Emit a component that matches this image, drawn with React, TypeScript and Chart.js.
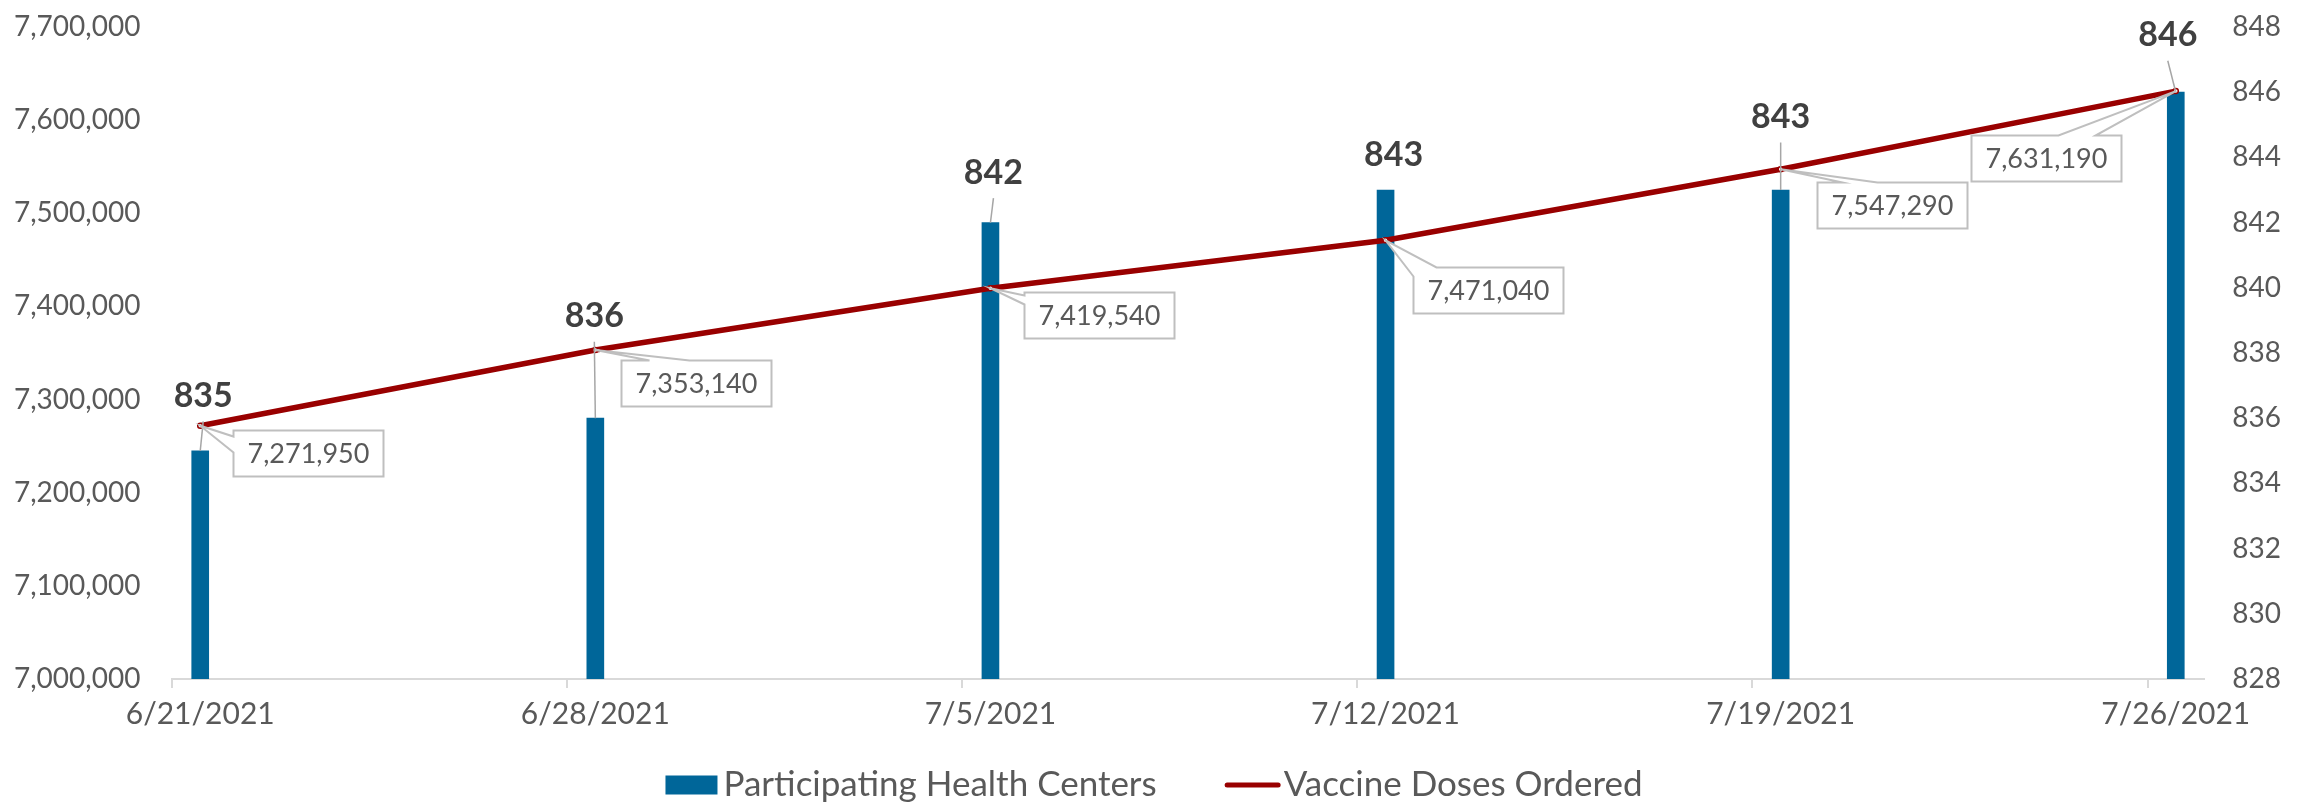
import React, { useEffect, useRef } from 'react';
import { Chart, registerables } from 'chart.js';

Chart.register(...registerables);

// ---- data ----
const weekDates = ['6/21/2021', '6/28/2021', '7/5/2021', '7/12/2021', '7/19/2021', '7/26/2021'];
const healthCenters = [835, 836, 842, 843, 843, 846];
const dosesOrdered = [7271950, 7353140, 7419540, 7471040, 7547290, 7631190];
const seriesNames = ['Participating Health Centers', 'Vaccine Doses Ordered'];
const leftAxisRange = [7000000, 7700000, 100000];
const rightAxisRange = [828, 848, 2];

// ---- label placement (pixel offsets, not data) ----
const barLabelShift = [[3, -55], [-1, -102], [3, -50], [8, -35], [0, -73], [-8, -57]];
const calloutShift = [[33, 4], [26, 10], [34, 4], [27, 27], [36, 13], [-205, 44]];
// wedge kind and two base offsets along box edges
const calloutWedge: [string, number, number][] = [
  ['left', 6, 22],
  ['top', 28, 68],
  ['left', 3, 12],
  ['corner', 23, 9],
  ['top', 25, 60],
  ['top', 87, 124],
];

const BAR_COLOR = '#006699';
const LINE_COLOR = '#990000';
const TEXT_COLOR = '#595959';
const FONT = 'Lato';

// build the daily category axis from the weekly dates
const parseMDY = (s: string) => {
  const [m, d, y] = s.split('/').map(Number);
  return Date.UTC(y, m - 1, d);
};
const fmtMDY = (t: number) => {
  const d = new Date(t);
  return `${d.getUTCMonth() + 1}/${d.getUTCDate()}/${d.getUTCFullYear()}`;
};
const dayLabels: string[] = [];
for (let t = parseMDY(weekDates[0]); t <= parseMDY(weekDates[weekDates.length - 1]); t += 86400000) {
  dayLabels.push(fmtMDY(t));
}
const weekSet = new Set(weekDates);

const labelPlugin = {
  id: 'customLabels',
  afterDatasetsDraw(chart: any) {
    const ctx = chart.ctx as CanvasRenderingContext2D;
    const barMeta = chart.getDatasetMeta(0);
    const lineMeta = chart.getDatasetMeta(1);
    ctx.save();

    // leader lines for bar labels
    barMeta.data.forEach((bar: any, i: number) => {
      const { x, y } = bar.getProps(['x', 'y'], true);
      const [dx, dy] = barLabelShift[i];
      const lx = x + dx;
      const ly = y + dy;
      const bottom = ly + 12.5;
      if (y - bottom > 28) {
        ctx.beginPath();
        ctx.moveTo(lx, bottom + 13);
        ctx.lineTo(x, y);
        ctx.strokeStyle = '#a6a6a6';
        ctx.lineWidth = 1.5;
        ctx.stroke();
      }
    });

    // callouts for line values
    lineMeta.data.forEach((pt: any, i: number) => {
      const { x, y } = pt.getProps(['x', 'y'], true);
      const text = dosesOrdered[i].toLocaleString('en-US');
      ctx.font = `27px ${FONT}`;
      const tw = ctx.measureText(text).width;
      const w = Math.round(tw + 28);
      const h = 46;
      const [dx, dy] = calloutShift[i];
      const bx = Math.round(x + dx) + 0.5;
      const by = Math.round(y + dy) + 0.5;
      const [kind, a, b] = calloutWedge[i];
      ctx.beginPath();
      if (kind === 'top') {
        ctx.moveTo(bx, by);
        ctx.lineTo(bx + a, by);
        ctx.lineTo(x, y);
        ctx.lineTo(bx + b, by);
        ctx.lineTo(bx + w, by);
        ctx.lineTo(bx + w, by + h);
        ctx.lineTo(bx, by + h);
        ctx.closePath();
      } else if (kind === 'left') {
        ctx.moveTo(bx, by);
        ctx.lineTo(bx + w, by);
        ctx.lineTo(bx + w, by + h);
        ctx.lineTo(bx, by + h);
        ctx.lineTo(bx, by + b);
        ctx.lineTo(x, y);
        ctx.lineTo(bx, by + a);
        ctx.closePath();
      } else {
        ctx.moveTo(bx, by + b);
        ctx.lineTo(x, y);
        ctx.lineTo(bx + a, by);
        ctx.lineTo(bx + w, by);
        ctx.lineTo(bx + w, by + h);
        ctx.lineTo(bx, by + h);
        ctx.closePath();
      }
      ctx.fillStyle = '#ffffff';
      ctx.fill();
      ctx.strokeStyle = '#bfbfbf';
      ctx.lineWidth = 2;
      ctx.stroke();
      ctx.fillStyle = TEXT_COLOR;
      ctx.textAlign = 'center';
      ctx.textBaseline = 'middle';
      ctx.fillText(text, bx + w / 2, by + h / 2 + 1);
    });

    // bold bar value labels
    ctx.font = `bold 34px ${FONT}`;
    ctx.fillStyle = '#404040';
    ctx.textAlign = 'center';
    ctx.textBaseline = 'middle';
    barMeta.data.forEach((bar: any, i: number) => {
      const { x, y } = bar.getProps(['x', 'y'], true);
      const [dx, dy] = barLabelShift[i];
      ctx.fillText(String(healthCenters[i]), x + dx, y + dy);
    });
    ctx.restore();
  },
  afterDraw(chart: any) {
    // legend at the bottom, centred on the canvas
    const ctx = chart.ctx as CanvasRenderingContext2D;
    ctx.save();
    ctx.font = `35px ${FONT}`;
    ctx.textBaseline = 'middle';
    ctx.textAlign = 'left';
    const ds = chart.data.datasets;
    const boxW = 52, lineW = 56, gap1 = 6, gap2 = 3, spacing = 68;
    const t1 = ctx.measureText(ds[0].label).width;
    const t2 = ctx.measureText(ds[1].label).width;
    const total = boxW + gap1 + t1 + spacing + lineW + gap2 + t2;
    let x = (chart.width - total) / 2;
    const cy = 785;
    ctx.fillStyle = ds[0].backgroundColor;
    ctx.fillRect(x, cy - 9.5, boxW, 19);
    x += boxW + gap1;
    ctx.fillStyle = TEXT_COLOR;
    ctx.fillText(ds[0].label, x, cy);
    x += t1 + spacing;
    ctx.beginPath();
    ctx.moveTo(x + 2.5, cy);
    ctx.lineTo(x + lineW - 2.5, cy);
    ctx.strokeStyle = ds[1].borderColor;
    ctx.lineWidth = 5;
    ctx.lineCap = 'round';
    ctx.stroke();
    x += lineW + gap2;
    ctx.fillStyle = TEXT_COLOR;
    ctx.fillText(ds[1].label, x, cy);
    ctx.restore();
  },
};

export default function App() {
  const canvasRef = useRef<HTMLCanvasElement | null>(null);

  useEffect(() => {
    document.body.style.margin = '0';
    document.body.style.overflow = 'hidden';
    const canvas = canvasRef.current;
    if (!canvas) return;
    Chart.defaults.font.family = FONT;
    const chart = new Chart(canvas, {
      type: 'bar',
      data: {
        labels: dayLabels,
        datasets: [
          {
            type: 'bar',
            label: seriesNames[0],
            data: weekDates.map((d, i) => ({ x: d, y: healthCenters[i] })),
            backgroundColor: BAR_COLOR,
            borderWidth: 0,
            barThickness: 17,
            yAxisID: 'y1',
            order: 2,
          } as any,
          {
            type: 'line',
            label: seriesNames[1],
            data: weekDates.map((d, i) => ({ x: d, y: dosesOrdered[i] })),
            borderColor: LINE_COLOR,
            backgroundColor: LINE_COLOR,
            borderWidth: 5.5,
            pointRadius: 2.5,
            pointBorderWidth: 1.5,
            pointBackgroundColor: '#ffffff',
            pointBorderColor: LINE_COLOR,
            tension: 0,
            yAxisID: 'y',
            order: 1,
          } as any,
        ],
      },
      options: {
        animation: false,
        responsive: false,
        maintainAspectRatio: false,
        layout: { padding: { top: 27, left: 14, right: 27, bottom: 0 } },
        plugins: {
          legend: { display: false },
          tooltip: { enabled: false },
        },
        scales: {
          x: {
            type: 'category',
            offset: true,
            grid: {
              display: true,
              offset: true,
              drawOnChartArea: false,
              drawTicks: true,
              tickLength: 9,
              lineWidth: 2,
              color: (c: any) =>
                c.type === 'tick' && weekSet.has(dayLabels[c.index]) ? '#d9d9d9' : 'rgba(0,0,0,0)',
            },
            border: { display: true, color: '#d9d9d9', width: 2 },
            ticks: {
              autoSkip: false,
              maxRotation: 0,
              minRotation: 0,
              padding: 8,
              color: TEXT_COLOR,
              font: { size: 30 },
              callback: (_v: any, i: number) => (weekSet.has(dayLabels[i]) ? dayLabels[i] : ''),
            },
            afterFit: (s: any) => {
              s.height = 123;
            },
          },
          y: {
            position: 'left',
            min: leftAxisRange[0],
            max: leftAxisRange[1],
            grid: { display: false, drawTicks: false },
            border: { display: false },
            ticks: {
              stepSize: leftAxisRange[2],
              padding: 0,
              crossAlign: 'far',
              color: TEXT_COLOR,
              font: { size: 28 },
              callback: (v: any) => Number(v).toLocaleString('en-US'),
            },
            afterFit: (s: any) => {
              s.width = 158;
            },
          },
          y1: {
            position: 'right',
            min: rightAxisRange[0],
            max: rightAxisRange[1],
            grid: { display: false, drawTicks: false },
            border: { display: false },
            ticks: {
              stepSize: rightAxisRange[2],
              padding: 0,
              crossAlign: 'far',
              color: TEXT_COLOR,
              font: { size: 28 },
            },
            afterFit: (s: any) => {
              s.width = 77;
            },
          },
        },
      },
      plugins: [labelPlugin],
    });
    return () => chart.destroy();
  }, []);

  return (
    <div style={{ width: 2308, height: 802, overflow: 'hidden', background: '#ffffff' }}>
      <canvas ref={canvasRef} width={2308} height={802} style={{ display: 'block' }} />
    </div>
  );
}
